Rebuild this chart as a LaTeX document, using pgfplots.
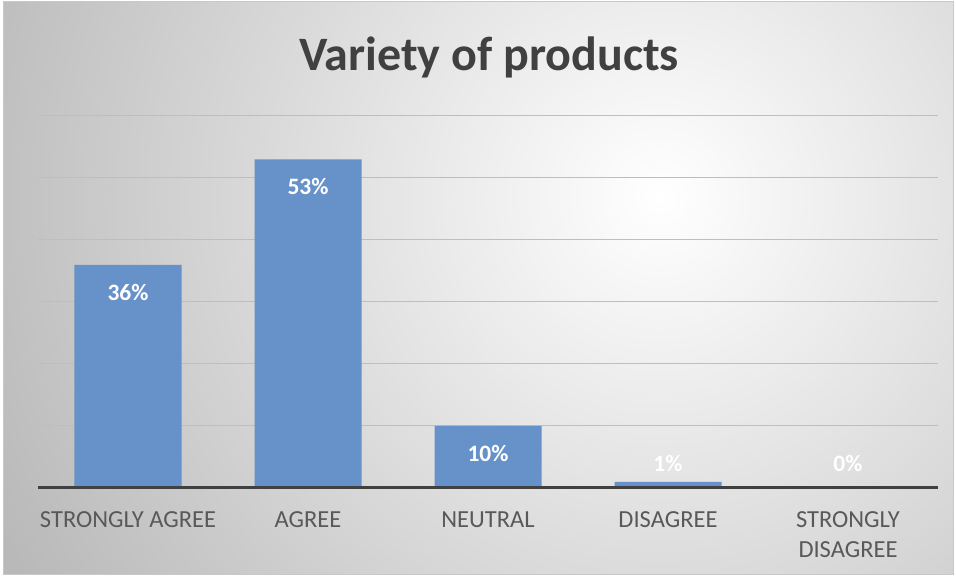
\documentclass[border=0pt]{standalone}
\usepackage{pgfplots}
\pgfplotsset{compat=1.18}
\usepackage{fontspec}
\setmainfont{Carlito}
\definecolor{barblue}{RGB}{102,146,201}
\definecolor{gridgray}{RGB}{190,190,190}
\definecolor{axisdark}{RGB}{64,64,64}
\definecolor{titlegray}{RGB}{64,64,64}
\definecolor{labgray}{RGB}{89,89,89}
\definecolor{bggray}{RGB}{185,185,185}
\definecolor{bordergray}{RGB}{200,200,200}
\pgfplotstableread{
x y
0 36
1 53
2 10
3 1
4 0
}\bardata
\pgfplotstableread{
x y lab
0 31.5 36\%
1 48.6 53\%
2 5.6 10\%
3 4.0 1\%
4 4.0 0\%
}\labdata
\begin{document}
\begin{tikzpicture}[x=1pt,y=1pt]
\useasboundingbox (0,0) rectangle (956,577);
\begin{scope}
\clip (3,2) rectangle (953,575);
\fill[bggray] (3,2) rectangle (953,575);
\shade[inner color=white, outer color=bggray] (660,380) circle (740);
\end{scope}
\draw[bordergray, line width=1pt] (3,2) rectangle (953,575);
\node[anchor=base, font=\fontsize{48}{52}\selectfont\bfseries, text=titlegray] at (489,506) {Variety of products};
\begin{axis}[
  at={(38pt,89pt)}, anchor=south west,
  width=900pt, height=372pt, scale only axis,
  xmin=-0.5, xmax=4.5, ymin=0, ymax=60,
  ytick={0,10,...,60}, yticklabels={},
  ymajorgrids, grid style={color=gridgray, line width=1pt},
  axis x line*=bottom, axis y line*=left,
  y axis line style={draw=none},
  x axis line style={draw=none},
  major tick length=0pt,
  xtick={0,1,2,3,4},
  xticklabels={STRONGLY AGREE, AGREE, NEUTRAL, DISAGREE, {STRONGLY\\DISAGREE}},
  xticklabel style={align=center, font=\fontsize{24.5}{30}\selectfont, text=labgray, yshift=-20pt},
  clip=false,
]
\addplot[ybar, bar width=107pt, fill=barblue, draw=none] table[x=x,y=y] {\bardata};
\draw[axisdark, line width=3pt] (rel axis cs:0,0) -- (rel axis cs:1,0);
\addplot[only marks, mark=none, nodes near coords, point meta=explicit symbolic,
  nodes near coords align={center},
  every node near coord/.append style={font=\fontsize{23.5}{26}\selectfont\bfseries, text=white, anchor=center}]
  table[x=x, y=y, meta=lab] {\labdata};
\end{axis}
\end{tikzpicture}
\end{document}
